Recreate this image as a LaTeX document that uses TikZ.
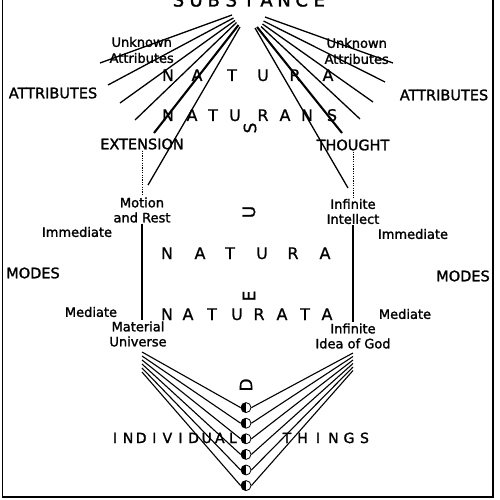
\documentclass[tikz,border=0pt]{standalone}
\usepackage{fontspec}
\setmainfont{DejaVu Sans}
\newfontfamily\heavy[FakeBold=1.6]{DejaVu Sans}
\newfontfamily\medium[FakeBold=0.8]{DejaVu Sans}
\usetikzlibrary{positioning}

\begin{document}
\begin{tikzpicture}[
  x=1pt,y=-1pt,
  caps/.style={font=\heavy\fontsize{14.5}{16}\selectfont,inner sep=1pt},
  small/.style={font=\heavy\fontsize{13}{15}\selectfont,align=center,inner sep=1pt},
  spaced/.style={font=\medium\fontsize{16}{18}\selectfont,anchor=base,inner sep=0pt},
  deus/.style={font=\medium\fontsize{17}{18}\selectfont,rotate=90,inner sep=0pt},
  ray/.style={line width=1.3pt},
  heavyray/.style={line width=2.1pt},
  stem/.style={line width=1.2pt},
  dotline/.style={line width=1pt,dash pattern=on 1.2pt off 1.2pt},
  strand/.style={line width=1.1pt},
  thing/.style={circle,draw,line width=0.8pt,fill=white,minimum size=10pt,inner sep=0pt,
    path picture={\fill[black] (path picture bounding box.north west)
      rectangle (path picture bounding box.south);}}
]
\useasboundingbox (0,0) rectangle (500,500);

% frame, open at the top
\draw[line width=1.5pt] (2.5,-5) -- (2.5,497);
\draw[line width=1.5pt] (493,-5) -- (493,497);
\draw[line width=2.6pt] (1.5,497) -- (494,497);

% the title, cut by the top edge
\foreach \l [count=\i] in {S,U,B,S,T,A,N,C,E}
  \node[spaced,font=\heavy\fontsize{18}{20}\selectfont] (sub\i)
    at ({178.5+17.6*(\i-1)},6.5) {\l};

% attributes
\node[small,font=\heavy\fontsize{13}{16}\selectfont] (unkl) at (141.7,50) {Unknown\\Attributes};
\node[small,font=\heavy\fontsize{13}{16}\selectfont] (unkr) at (356.7,51) {Unknown\\Attributes};
\node[caps] (attl) at (53,93) {ATTRIBUTES};
\node[caps] (attr) at (444,95) {ATTRIBUTES};
\node[caps] (extension) at (142,144) {EXTENSION};
\node[caps] (thought) at (353,145) {THOUGHT};

% modes
\node[small] (motion) at (142,210) {Motion\\and Rest};
\node[small] (intellect) at (353,211.5) {Infinite\\Intellect};
\node[small] (immedl) at (77,232) {Immediate};
\node[small] (immedr) at (413,234) {Immediate};
\node[caps] (modesl) at (33,273) {MODES};
\node[caps] (modesr) at (463,276) {MODES};
\node[small] (medl) at (91,312) {Mediate};
\node[small] (medr) at (405,314) {Mediate};
\node[small] (material) at (138,334) {Material\\Universe};
\node[small] (ideagod) at (353,336) {Infinite\\Idea of God};

% spaced words
\foreach \l/\x [count=\i] in {N/168,A/197,T/232,U/263,R/295,A/328}
  \node[spaced] (na\i) at (\x,81) {\l};
\foreach \l/\x [count=\i] in {N/168,A/192,T/213,U/235,R/263,A/285,N/307,S/332}
  \node[spaced] (ns\i) at (\x,121) {\l};
\foreach \l/\x [count=\i] in {N/167,A/200,T/230,U/262,R/293,A/325}
  \node[spaced] (nb\i) at (\x,259) {\l};
\foreach \l/\x [count=\i] in {N/167,A/188,T/212,U/237,R/259,A/282,T/305,A/327}
  \node[spaced] (nt\i) at (\x,320) {\l};
\foreach \l [count=\i] in {I,N,D,I,V,I,D,U,A,L}
  \node[spaced,font=\heavy\fontsize{14}{16}\selectfont] (ind\i) at ({115+13.1*(\i-1)},443) {\l};
\foreach \l [count=\i] in {T,H,I,N,G,S}
  \node[spaced,font=\heavy\fontsize{14}{16}\selectfont] (thg\i) at ({287+15.5*(\i-1)},443) {\l};

% DEUS, read upwards
\node[deus] (deusD) at (246,385) {D};
\node[deus] (deusE) at (249,296) {E};
\node[deus] (deusU) at (249,212) {U};
\node[deus] (deusS) at (250,128) {S};

% rays out of substance
\foreach \sx/\sy/\ex/\ey [count=\i] in {232/15/100/63,233.5/18/108/85,235/20.5/120/103,
    236.5/22.5/135/120,238.5/25/154/133,240/27/148/185}{
  \coordinate (ls\i) at (\sx,\sy);
  \coordinate (le\i) at (\ex,\ey);
}
\foreach \sx/\sy/\ex/\ey [count=\i] in {265/17/393/63,263.5/21/385/82,262.5/24/373/102,
    261/26.5/360/119,257/27/342/133,255/28/348/188}{
  \coordinate (rs\i) at (\sx,\sy);
  \coordinate (re\i) at (\ex,\ey);
}
\foreach \i in {1,2,3,4,6}{
  \draw[ray] (ls\i) -- (le\i);
  \draw[ray] (rs\i) -- (re\i);
}
\draw[heavyray] (ls5) -- (le5);
\draw[heavyray] (rs5) -- (re5);

% attribute to infinite mode to finite mode
\draw[dotline] (extension.south) -- (motion.north);
\draw[dotline] (thought.south) -- (intellect.north);
\draw[stem] (motion.south) -- (motion.south |- material.north);
\draw[stem] (intellect.south) -- (intellect.south |- ideagod.north);

% individual things
\foreach \i in {1,...,6}{
  \node[thing] (d\i) at (246,{392+15.6*\i}) {};
  \coordinate (mu\i) at (142,{348+4*\i});
  \coordinate (ig\i) at (353,{349.5+3.5*\i});
  \draw[strand] (mu\i) -- (d\i.west);
  \draw[strand] (ig\i) -- (d\i.east);
}
\end{tikzpicture}
\end{document}
